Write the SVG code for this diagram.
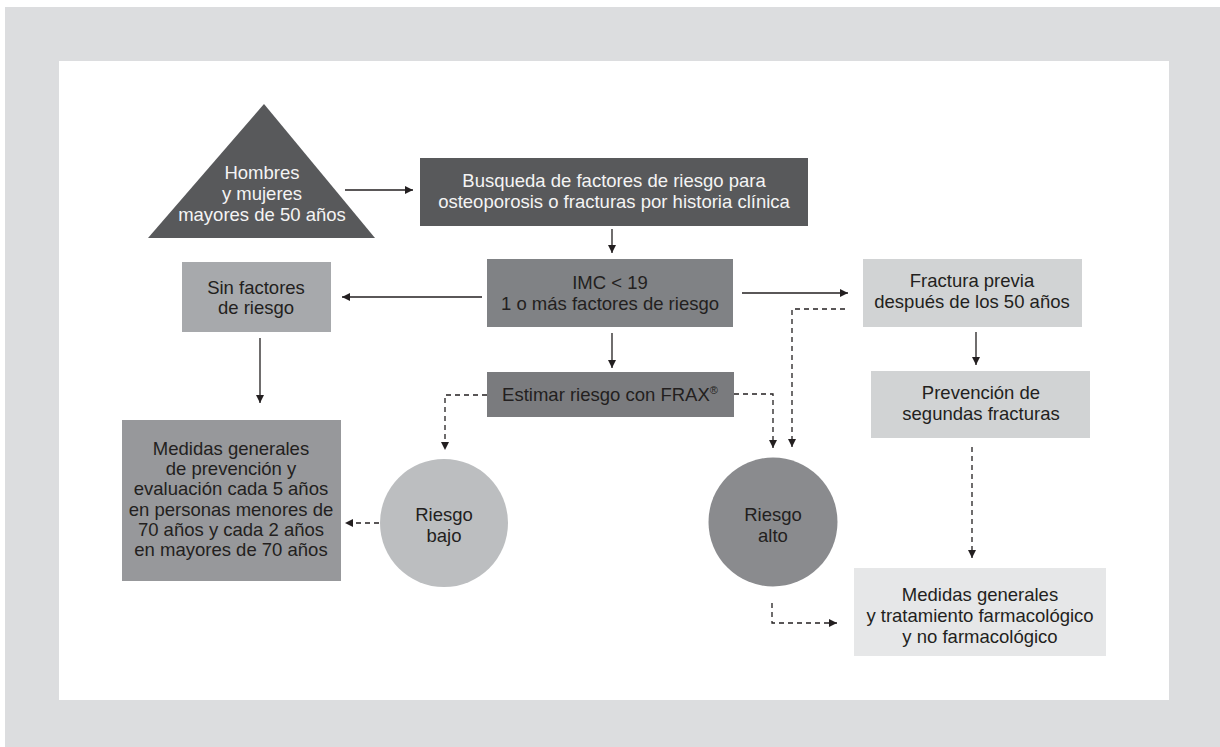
<svg xmlns="http://www.w3.org/2000/svg" width="1220" height="747" viewBox="0 0 1220 747">
<style>
text{font-family:"Liberation Sans",Arial,sans-serif;font-size:18.5px;text-anchor:middle;fill:#231f20}
.lt{fill:#f4f4f4}
.ln{fill:none;stroke:#231f20;stroke-width:1.3}
.ds{stroke-dasharray:5 4}
</style>
<defs>
<marker id="ah" viewBox="0 0 8 8" markerWidth="8" markerHeight="8" refX="8" refY="4" orient="auto" markerUnits="userSpaceOnUse">
<path d="M0,0 L8,4 L0,8 z" fill="#231f20"/>
</marker>
</defs>
<rect x="5" y="7" width="1215" height="740" fill="#dcdddf"/>
<rect x="59" y="61" width="1110" height="639" fill="#ffffff"/>

<g id="connectors">
<line class="ln" x1="345" y1="190" x2="413" y2="190" marker-end="url(#ah)"/>
<line class="ln" x1="612" y1="229" x2="612" y2="253" marker-end="url(#ah)"/>
<line class="ln" x1="482" y1="297" x2="342" y2="297" marker-end="url(#ah)"/>
<line class="ln" x1="742" y1="293" x2="848" y2="293" marker-end="url(#ah)"/>
<line class="ln" x1="260" y1="338" x2="260" y2="403" marker-end="url(#ah)"/>
<line class="ln" x1="612" y1="333" x2="612" y2="368" marker-end="url(#ah)"/>
<path class="ln ds" d="M487,395 H445 V450" marker-end="url(#ah)"/>
<path class="ln ds" d="M734,394 H773 V448" marker-end="url(#ah)"/>
<path class="ln ds" d="M845,309 H792 V447" marker-end="url(#ah)"/>
<path class="ln ds" d="M379,523 H345" marker-end="url(#ah)"/>
<line class="ln" x1="976" y1="332" x2="976" y2="365" marker-end="url(#ah)"/>
<path class="ln ds" d="M972,447 V558" marker-end="url(#ah)"/>
<path class="ln ds" d="M772,603 V623 H837" marker-end="url(#ah)"/>
</g>

<g id="n-hombres">
<polygon points="148,238 375,238 264,104" fill="#58595b"/>
<text class="lt" x="262" y="179">Hombres</text>
<text class="lt" x="262" y="200">y mujeres</text>
<text class="lt" x="262" y="221">mayores de 50 años</text>
</g>

<g id="n-busqueda">
<rect x="420" y="158" width="388" height="68" fill="#58595b"/>
<text class="lt" x="614" y="187">Busqueda de factores de riesgo para</text>
<text class="lt" x="614" y="208">osteoporosis o fracturas por historia clínica</text>
</g>

<g id="n-imc">
<rect x="487" y="259" width="246" height="68" fill="#808285"/>
<text x="610" y="289">IMC &lt; 19</text>
<text x="610" y="310">1 o más factores de riesgo</text>
</g>

<g id="n-sin">
<rect x="182" y="262" width="149" height="70" fill="#a7a9ac"/>
<text x="256" y="294">Sin factores</text>
<text x="256" y="314">de riesgo</text>
</g>

<g id="n-fractura">
<rect x="863" y="259" width="219" height="68" fill="#d1d3d4"/>
<text x="972" y="287">Fractura previa</text>
<text x="972" y="308">después de los 50 años</text>
</g>

<g id="n-prevencion">
<rect x="871" y="371" width="219" height="67" fill="#d1d3d4"/>
<text x="981" y="399">Prevención de</text>
<text x="981" y="420">segundas fracturas</text>
</g>

<g id="n-estimar">
<rect x="487" y="372" width="247" height="45" fill="#7a7b7e"/>
<text x="610" y="401">Estimar riesgo con FRAX<tspan font-size="11" dy="-7">®</tspan></text>
</g>

<g id="n-medidas-prev">
<rect x="122" y="420" width="219" height="161" fill="#97989b"/>
<text x="231" y="455">Medidas generales</text>
<text x="231" y="475">de prevención y</text>
<text x="231" y="495">evaluación cada 5 años</text>
<text x="231" y="516">en personas menores de</text>
<text x="231" y="536">70 años y cada 2 años</text>
<text x="231" y="556">en mayores de 70 años</text>
</g>

<g id="n-bajo">
<circle cx="444" cy="523" r="64" fill="#bcbec0"/>
<text x="444" y="521">Riesgo</text>
<text x="444" y="542">bajo</text>
</g>

<g id="n-alto">
<circle cx="773" cy="522" r="64.5" fill="#8a8b8e"/>
<text x="773" y="521">Riesgo</text>
<text x="773" y="542">alto</text>
</g>

<g id="n-tratamiento">
<rect x="854" y="568" width="252" height="88" fill="#e6e7e8"/>
<text x="980" y="601">Medidas generales</text>
<text x="980" y="622">y tratamiento farmacológico</text>
<text x="980" y="643">y no farmacológico</text>
</g>
</svg>
